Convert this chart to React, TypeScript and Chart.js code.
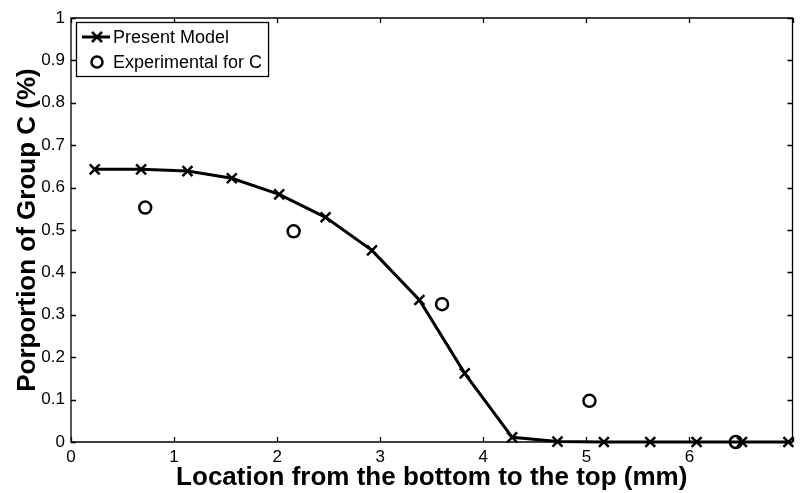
import { useEffect, useRef } from 'react';
import { Chart, registerables } from 'chart.js';

Chart.register(...registerables);

// Present model: proportion of group C along the column height
const modelX = [0.23, 0.68, 1.13, 1.56, 2.02, 2.47, 2.92, 3.38, 3.82, 4.28, 4.72, 5.17, 5.62, 6.07, 6.51, 6.96];
const modelY = [0.643, 0.643, 0.639, 0.622, 0.584, 0.53, 0.452, 0.335, 0.162, 0.011, 0.001, 0, 0, 0, 0, 0];

// Experimental measurements for group C
const expX = [0.72, 2.16, 3.6, 5.03, 6.45];
const expY = [0.553, 0.497, 0.325, 0.097, 0];

const xTicks = [0, 1, 2, 3, 4, 5, 6, 7];
const yTicks = [0, 0.1, 0.2, 0.3, 0.4, 0.5, 0.6, 0.7, 0.8, 0.9, 1];

const seriesNames = ['Present Model', 'Experimental for C'];
const xTitle = 'Location from the bottom to the top (mm)';
const yTitle = 'Porportion of Group C (%)';

const FONT = "'Liberation Sans', Arial, Helvetica, sans-serif";

// Box around the axes with inward tick marks on all four sides
const framePlugin = {
  id: 'frame',
  afterDraw(chart: any) {
    const { ctx, chartArea: a, scales } = chart;
    const len = 5;
    ctx.save();
    ctx.strokeStyle = '#000';
    ctx.lineWidth = 1.3;
    ctx.beginPath();
    ctx.rect(a.left, a.top, a.right - a.left, a.bottom - a.top);
    for (const v of xTicks) {
      const x = Math.round(scales.x.getPixelForValue(v)) + 0.5;
      ctx.moveTo(x, a.bottom);
      ctx.lineTo(x, a.bottom - len);
      ctx.moveTo(x, a.top);
      ctx.lineTo(x, a.top + len);
    }
    for (const v of yTicks) {
      const y = Math.round(scales.y.getPixelForValue(v)) + 0.5;
      ctx.moveTo(a.left, y);
      ctx.lineTo(a.left + len, y);
      ctx.moveTo(a.right, y);
      ctx.lineTo(a.right - len, y);
    }
    ctx.stroke();
    ctx.restore();
  },
};

// Boxed legend in the upper-left corner of the axes
const legendPlugin = {
  id: 'boxLegend',
  afterDraw(chart: any) {
    const { ctx, chartArea: a } = chart;
    const left = a.left + 5;
    const top = a.top + 4;
    const rowH = 25;
    const textX = left + 37;
    ctx.save();
    ctx.font = `18px ${FONT}`;
    const w = Math.max(...seriesNames.map((s) => ctx.measureText(s).width));
    const boxW = textX - left + w + 6;
    const boxH = rowH * 2 + 4;
    ctx.fillStyle = '#fff';
    ctx.fillRect(left, top, boxW, boxH);
    ctx.strokeStyle = '#000';
    ctx.lineWidth = 1.3;
    ctx.strokeRect(left + 0.5, top + 0.5, boxW, boxH);

    const y1 = top + 15;
    const y2 = y1 + rowH;
    const mx = left + 21;
    // model entry: line with cross
    ctx.lineWidth = 3;
    ctx.beginPath();
    ctx.moveTo(left + 6, y1);
    ctx.lineTo(left + 34, y1);
    ctx.stroke();
    ctx.lineWidth = 2.5;
    ctx.beginPath();
    ctx.moveTo(mx - 5, y1 - 5);
    ctx.lineTo(mx + 5, y1 + 5);
    ctx.moveTo(mx - 5, y1 + 5);
    ctx.lineTo(mx + 5, y1 - 5);
    ctx.stroke();
    // experimental entry: open circle
    ctx.lineWidth = 2.5;
    ctx.beginPath();
    ctx.arc(mx, y2, 5.5, 0, Math.PI * 2);
    ctx.stroke();

    ctx.fillStyle = '#000';
    ctx.textBaseline = 'middle';
    ctx.textAlign = 'left';
    ctx.fillText(seriesNames[0], textX, y1 + 1);
    ctx.fillText(seriesNames[1], textX, y2 + 1);
    ctx.restore();
  },
};

export default function App() {
  const ref = useRef<HTMLCanvasElement>(null);

  useEffect(() => {
    if (!ref.current) return;
    const chart = new Chart(ref.current, {
      type: 'scatter',
      data: {
        datasets: [
          {
            label: seriesNames[0],
            data: modelX.map((x, i) => ({ x, y: modelY[i] })),
            showLine: true,
            borderColor: '#000',
            backgroundColor: '#000',
            borderWidth: 3,
            pointStyle: 'crossRot',
            pointRadius: 7,
            pointBorderWidth: 2.5,
            pointBorderColor: '#000',
            clip: false,
          },
          {
            label: seriesNames[1],
            data: expX.map((x, i) => ({ x, y: expY[i] })),
            showLine: false,
            borderColor: '#000',
            backgroundColor: 'rgba(0,0,0,0)',
            pointStyle: 'circle',
            pointRadius: 6,
            pointBorderWidth: 2.5,
            pointBorderColor: '#000',
            clip: false,
          },
        ],
      },
      options: {
        responsive: false,
        animation: false,
        devicePixelRatio: 1,
        layout: { padding: { left: 0, top: 18, right: 4, bottom: 0 } },
        plugins: { legend: { display: false }, tooltip: { enabled: false } },
        scales: {
          x: {
            type: 'linear',
            min: 0,
            max: 7,
            grid: { display: false, drawTicks: false },
            border: { display: false },
            afterBuildTicks: (s: any) => {
              s.ticks = xTicks.map((v) => ({ value: v }));
            },
            afterFit: (s: any) => {
              s.height = 51;
            },
            ticks: {
              color: '#000',
              padding: 5,
              maxRotation: 0,
              font: { family: FONT, size: 17 },
              callback: (v: any) => (v === 7 ? '' : String(v)),
            },
            title: {
              display: true,
              text: xTitle,
              color: '#000',
              font: { family: FONT, size: 26, weight: 'bold' },
              padding: { top: 0, bottom: 0 },
            },
          },
          y: {
            type: 'linear',
            min: 0,
            max: 1,
            grid: { display: false, drawTicks: false },
            border: { display: false },
            afterBuildTicks: (s: any) => {
              s.ticks = yTicks.map((v) => ({ value: v }));
            },
            afterFit: (s: any) => {
              s.width = 71;
            },
            ticks: {
              color: '#000',
              padding: 6,
              font: { family: FONT, size: 17 },
              callback: (v: any) => String(Math.round(v * 10) / 10),
            },
            title: {
              display: true,
              text: yTitle,
              color: '#000',
              font: { family: FONT, size: 26, weight: 'bold' },
              padding: { top: 12, bottom: 0 },
            },
          },
        },
      },
      plugins: [framePlugin, legendPlugin],
    });
    return () => chart.destroy();
  }, []);

  return (
    <div style={{ position: 'fixed', left: 0, top: 0, width: 802, height: 493, background: '#fff' }}>
      <canvas ref={ref} width={802} height={493} />
    </div>
  );
}
